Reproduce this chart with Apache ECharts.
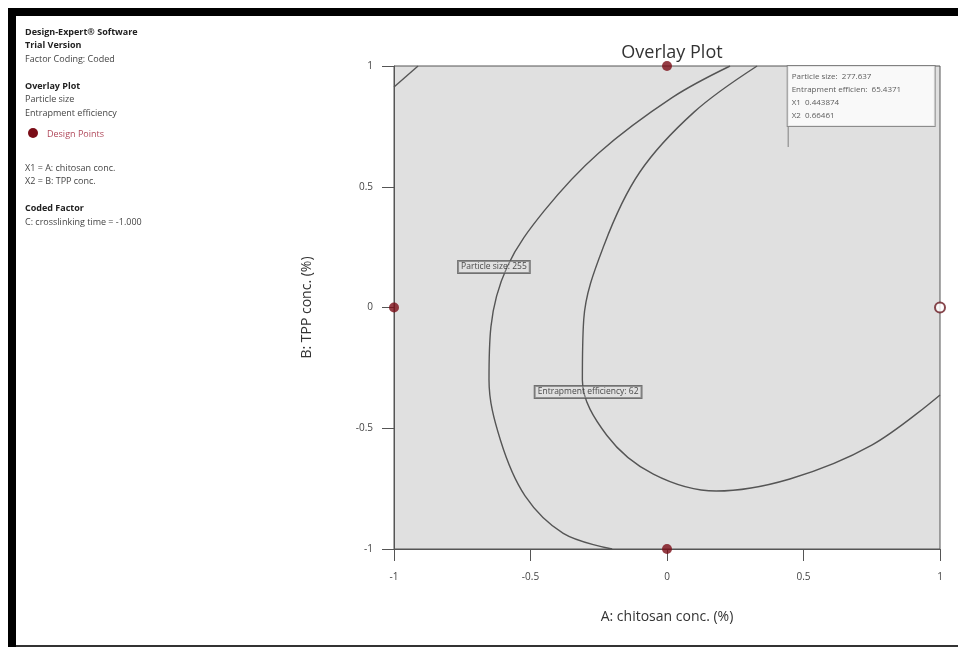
<!DOCTYPE html>
<html>
<head>
<meta charset="utf-8">
<script src="https://cdn.jsdelivr.net/npm/echarts@6/dist/echarts.min.js"></script>
<style>html,body{margin:0;padding:0;background:#fff;}#c{width:958px;height:647px;}</style>
</head>
<body>
<div id="c"></div>
<script>
// ---- data ----
const tickValues = [-1, -0.5, 0, 0.5, 1];
const particleSize255 = [
  [0.231, 1.0], [0.02, 0.87], [-0.25, 0.64], [-0.45, 0.40], [-0.585, 0.17],
  [-0.645, -0.08], [-0.652, -0.30], [-0.61, -0.55], [-0.52, -0.78], [-0.38, -0.935],
  [-0.201, -1.0]
];
const particleSize255Corner = [[-1, 0.913], [-0.912, 1.0]];
const entrapment62 = [
  [0.330, 1.0], [0.10, 0.81], [-0.10, 0.56], [-0.23, 0.26], [-0.305, -0.05],
  [-0.31, -0.30], [-0.22, -0.53], [-0.05, -0.69], [0.18, -0.76], [0.45, -0.71],
  [0.75, -0.57], [1.0, -0.362]
];
const designPoints = [[-1, 0], [0, 1], [0, -1]];
const centerPoints = [[1, 0]];
const contourLabels = [
  ['Particle size: 255', -0.634, 0.168],
  ['Entrapment efficiency: 62', -0.289, -0.35]
];
const flagPoint = [0.443874, 0.66461];
const flagLines = ['Particle size:  277.637', 'Entrapment efficien:  65.4371', 'X1  0.443874', 'X2  0.66461'];
const infoLines = [
  ['Design-Expert® Software', true],
  ['Trial Version', true],
  ['Factor Coding: Coded', false],
  ['', false],
  ['Overlay Plot', true],
  ['Particle size', false],
  ['Entrapment efficiency', false]
];
const infoLines2 = [
  ['X1 = A: chitosan conc.', false],
  ['X2 = B: TPP conc.', false],
  ['', false],
  ['Coded Factor', true],
  ['C: crosslinking time = -1.000', false]
];
const titleText = 'Overlay Plot';
const xName = 'A: chitosan conc. (%)';
const yName = 'B: TPP conc. (%)';
const legendText = 'Design Points';

// ---- chart ----
const FONT = '"Open Sans", "Noto Sans", sans-serif';
const chart = echarts.init(document.getElementById('c'), null, {renderer: 'canvas'});

const graphics = [
  {type: 'rect', shape: {x: 8, y: 8, width: 950, height: 8}, style: {fill: '#000'}},
  {type: 'rect', shape: {x: 8, y: 8, width: 8, height: 639}, style: {fill: '#000'}},
  {type: 'rect', shape: {x: 16, y: 645, width: 942, height: 2}, style: {fill: '#333'}}
];
function addInfo(lines, y0) {
  lines.forEach((l, i) => {
    if (!l[0]) return;
    graphics.push({type: 'text', x: 25, y: y0 + i * 13.5, style: {
      text: l[0], fill: l[1] ? '#222' : '#444', verticalAlign: 'middle',
      font: (l[1] ? 'bold ' : '') + '9px ' + FONT}});
  });
}
addInfo(infoLines, 32);
addInfo(infoLines2, 168);
graphics.push({type: 'circle', shape: {cx: 33, cy: 133, r: 5}, style: {fill: '#7a0d17'}});
graphics.push({type: 'text', x: 47, y: 134, style: {text: legendText, fill: '#b0485a', verticalAlign: 'middle', font: '9px ' + FONT}});

const axisCommon = {
  type: 'value', min: -1, max: 1, interval: 0.5,
  axisLine: {show: true, onZero: false, lineStyle: {color: '#555', width: 1}},
  axisTick: {show: true, length: 12, lineStyle: {color: '#555'}},
  splitLine: {show: false},
  axisLabel: {color: '#444', fontSize: 10, fontFamily: FONT, margin: 21},
  nameLocation: 'middle',
  nameTextStyle: {color: '#333', fontSize: 14, fontFamily: FONT}
};

const option = {
  animation: false,
  backgroundColor: '#fff',
  title: {text: titleText, left: 667, top: 39, textAlign: 'center',
    textStyle: {color: '#333', fontSize: 18, fontWeight: 'normal', fontFamily: FONT}},
  grid: {left: 394, top: 66, width: 546, height: 483, show: true,
    backgroundColor: '#e0e0e0', borderColor: '#555', borderWidth: 1},
  xAxis: Object.assign({}, axisCommon, {name: xName, nameGap: 61,
    axisLabel: {color: '#444', fontSize: 10, fontFamily: FONT, margin: 23}}),
  yAxis: Object.assign({}, axisCommon, {name: yName, nameGap: 80}),
  graphic: graphics,
  series: [
    {type: 'line', data: particleSize255, smooth: 0.35, showSymbol: false, symbol: 'none',
      lineStyle: {color: '#555', width: 1.4}, z: 3},
    {type: 'line', data: particleSize255Corner, showSymbol: false, symbol: 'none',
      lineStyle: {color: '#555', width: 1.4}, z: 3},
    {type: 'line', data: entrapment62, smooth: 0.35, showSymbol: false, symbol: 'none',
      lineStyle: {color: '#555', width: 1.4}, z: 3},
    {type: 'scatter', data: contourLabels.map(c => ({value: [c[1], c[2]], name: c[0]})),
      symbolSize: 0, z: 5, clip: false,
      label: {show: true, position: 'inside', formatter: p => p.name, color: '#222', fontSize: 8.5,
        fontFamily: FONT, backgroundColor: 'rgba(225,225,225,0.35)', borderColor: '#555', borderWidth: 1,
        padding: [2, 3, 1, 3]}},
    {type: 'scatter', data: [flagPoint], symbol: 'rect', symbolSize: [1, 20], symbolOffset: [0, '-50%'],
      itemStyle: {color: '#666'}, z: 6, clip: false,
      label: {show: true, position: [0, -61], formatter: () => flagLines.join('\n'), color: '#333',
        fontSize: 8, lineHeight: 13, fontFamily: FONT, backgroundColor: '#fff', borderColor: '#777',
        borderWidth: 1, width: 139, padding: [4, 4, 4, 4], align: 'left', verticalAlign: 'top'}},
    {type: 'scatter', data: designPoints, symbolSize: 10, clip: false, z: 7,
      itemStyle: {color: '#7a0d17'}},
    {type: 'scatter', data: centerPoints, symbolSize: 10, clip: false, z: 7,
      itemStyle: {color: '#fff', borderColor: '#6a1a22', borderWidth: 2}}
  ]
};
chart.setOption(option);
</script>
</body>
</html>
